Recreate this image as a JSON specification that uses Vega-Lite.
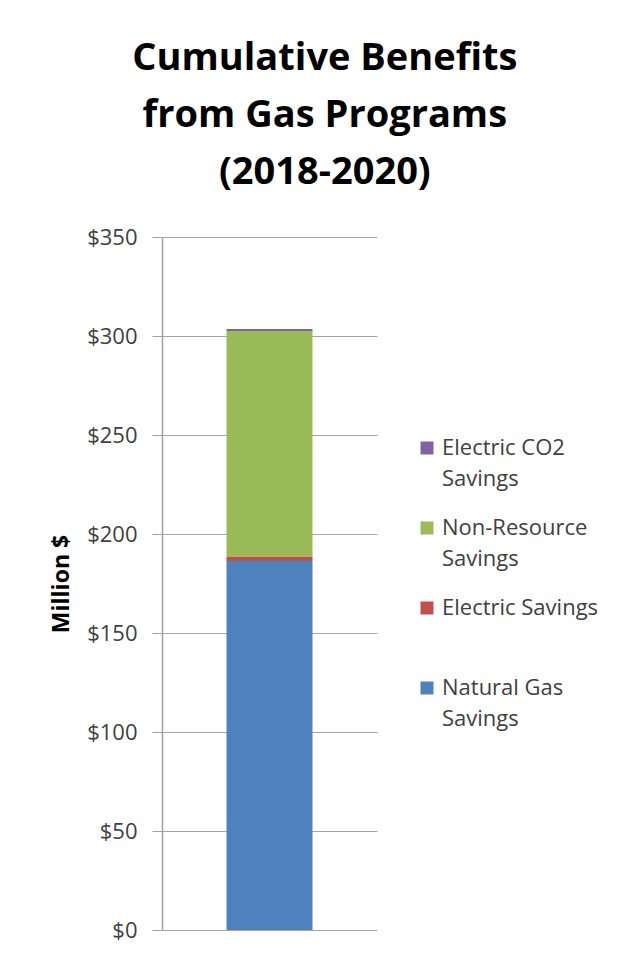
{
  "$schema": "https://vega.github.io/schema/vega-lite/v6.json",
  "width": 215,
  "height": 693,
  "padding": {"left": 50, "top": 40, "right": 5, "bottom": 5},
  "background": "white",
  "title": {
    "text": ["Cumulative Benefits", "from Gas Programs", "(2018-2020)"],
    "font": "Open Sans",
    "fontSize": 38,
    "fontWeight": "bold",
    "color": "#000000",
    "lineHeight": 57,
    "anchor": "middle",
    "frame": "bounds",
    "offset": 34
  },
  "data": {
    "values": [
      {"program": "Gas Programs", "benefit": "Natural Gas Savings", "value": 186.4, "order": 1},
      {"program": "Gas Programs", "benefit": "Electric Savings", "value": 2.0, "order": 2},
      {"program": "Gas Programs", "benefit": "Non-Resource Savings", "value": 114.1, "order": 3},
      {"program": "Gas Programs", "benefit": "Electric CO2 Savings", "value": 1.0, "order": 4}
    ]
  },
  "mark": {"type": "bar", "width": 86},
  "encoding": {
    "x": {"field": "program", "type": "nominal", "axis": null},
    "y": {
      "field": "value",
      "type": "quantitative",
      "stack": "zero",
      "scale": {"domain": [0, 350], "nice": false},
      "axis": {
        "title": "Million $",
        "values": [0, 50, 100, 150, 200, 250, 300, 350],
        "format": "$,.0f",
        "labelFont": "Open Sans",
        "labelFontSize": 22,
        "labelColor": "#404040",
        "labelPadding": 15,
        "tickSize": 10,
        "tickColor": "#A0A0A0",
        "domainColor": "#A0A0A0",
        "domainWidth": 1.5,
        "gridColor": "#A6A6A6",
        "gridWidth": 1.2,
        "titleFont": "Open Sans",
        "titleFontSize": 23,
        "titleFontWeight": "bold",
        "titleColor": "#000000",
        "titlePadding": 13
      }
    },
    "color": {
      "field": "benefit",
      "type": "nominal",
      "scale": {
        "domain": ["Electric CO2 Savings", "Non-Resource Savings", "Electric Savings", "Natural Gas Savings"],
        "range": ["#8064A2", "#9BBB59", "#C0504D", "#4F81BD"]
      },
      "legend": {
        "title": null,
        "orient": "none",
        "legendX": 254,
        "legendY": 200,
        "symbolType": "square",
        "symbolSize": 169,
        "symbolStrokeWidth": 0,
        "labelFont": "Open Sans",
        "labelFontSize": 22,
        "labelColor": "#404040",
        "labelLimit": 300,
        "labelOffset": 4,
        "rowPadding": 27,
        "labelExpr": "datum.label == 'Electric Savings' ? ['Electric Savings', ' '] : [substring(datum.label, 0, lastindexof(datum.label, ' ')), 'Savings']"
      }
    },
    "order": {"field": "order", "type": "quantitative", "sort": "ascending"}
  },
  "config": {
    "view": {"stroke": null},
    "style": {"guide-label": {"lineHeight": 31}}
  }
}
